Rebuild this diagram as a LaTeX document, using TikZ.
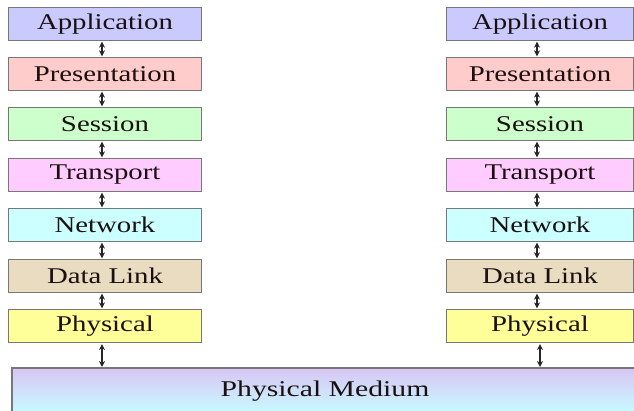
\documentclass[tikz,border=0pt]{standalone}
\usepackage{fontspec}
\setmainfont{Liberation Serif}
\usetikzlibrary{arrows.meta}
\definecolor{cApp}{HTML}{CACAFF}
\definecolor{cPre}{HTML}{FFCCCC}
\definecolor{cSes}{HTML}{CCFFCC}
\definecolor{cTra}{HTML}{FFCCFF}
\definecolor{cNet}{HTML}{CCFFFF}
\definecolor{cDat}{HTML}{EADCC0}
\definecolor{cPhy}{HTML}{FFFF99}
\definecolor{cMedTop}{HTML}{D8C6F4}
\definecolor{cMedBot}{HTML}{C8F8FF}
\definecolor{cBorder}{HTML}{777777}
\definecolor{cText}{HTML}{1A1010}
\newcommand{\lbl}[1]{\scalebox{1.28}[1]{#1}}
\begin{document}
\begin{tikzpicture}[x=1pt,y=-1pt,
  layer/.style={draw=cBorder,line width=1.2pt,minimum height=33pt,inner sep=0pt,
    text=cText,font=\fontsize{22.5}{24}\selectfont},
  lleft/.style={layer,minimum width=193pt},
  lright/.style={layer,minimum width=187pt},
  link/.style={{Stealth[length=6pt,width=6pt]}-{Stealth[length=6pt,width=6pt]},line width=1.1pt,black!85}]
\useasboundingbox (0,0) rectangle (634,411);
% left stack
\node[lleft,fill=cApp] (la) at (105,24) {\lbl{Application}};
\node[lleft,fill=cPre] (lp) at (105,74) {\lbl{Presentation}};
\node[lleft,fill=cSes] (ls) at (105,124) {\lbl{Session}};
\node[lleft,fill=cTra] (lt) at (105,175) {\lbl{Transport}};
\node[lleft,fill=cNet] (ln) at (105,225) {\lbl{Network}};
\node[lleft,fill=cDat] (ld) at (105,276) {\lbl{Data Link}};
\node[lleft,fill=cPhy] (lh) at (105,326) {\lbl{Physical}};
% right stack
\node[lright,fill=cApp] (ra) at (540,24) {\lbl{Application}};
\node[lright,fill=cPre] (rp) at (540,74) {\lbl{Presentation}};
\node[lright,fill=cSes] (rs) at (540,124) {\lbl{Session}};
\node[lright,fill=cTra] (rt) at (540,175) {\lbl{Transport}};
\node[lright,fill=cNet] (rn) at (540,225) {\lbl{Network}};
\node[lright,fill=cDat] (rd) at (540,276) {\lbl{Data Link}};
\node[lright,fill=cPhy] (rh) at (540,326) {\lbl{Physical}};
% physical medium
\shade[top color=cMedTop,bottom color=cMedBot] (12,368) rectangle (634,411);
\draw[cBorder,line width=1.4pt] (12,411) -- (12,368) -- (634,368);
\node[font=\fontsize{22.5}{24}\selectfont,text=cText,inner sep=0pt] (med) at (325,391) {\scalebox{1.32}[1]{Physical Medium}};
\coordinate (ml) at (102,368);
\coordinate (mr) at (540,368);
% arrows
\foreach \a/\b in {la/lp,lp/ls,ls/lt,lt/ln,ln/ld,ld/lh,ra/rp,rp/rs,rs/rt,rt/rn,rn/rd,rd/rh}{
  \draw[link] ([xshift=-3pt,yshift=-0.6pt]\a.south) -- ([xshift=-3pt,yshift=0.6pt]\b.north);
}
\draw[link] ([xshift=-3pt,yshift=-1pt]lh.south) -- ([yshift=1pt]ml);
\draw[link] ([yshift=-1pt]rh.south) -- ([yshift=1pt]mr);
\end{tikzpicture}
\end{document}
